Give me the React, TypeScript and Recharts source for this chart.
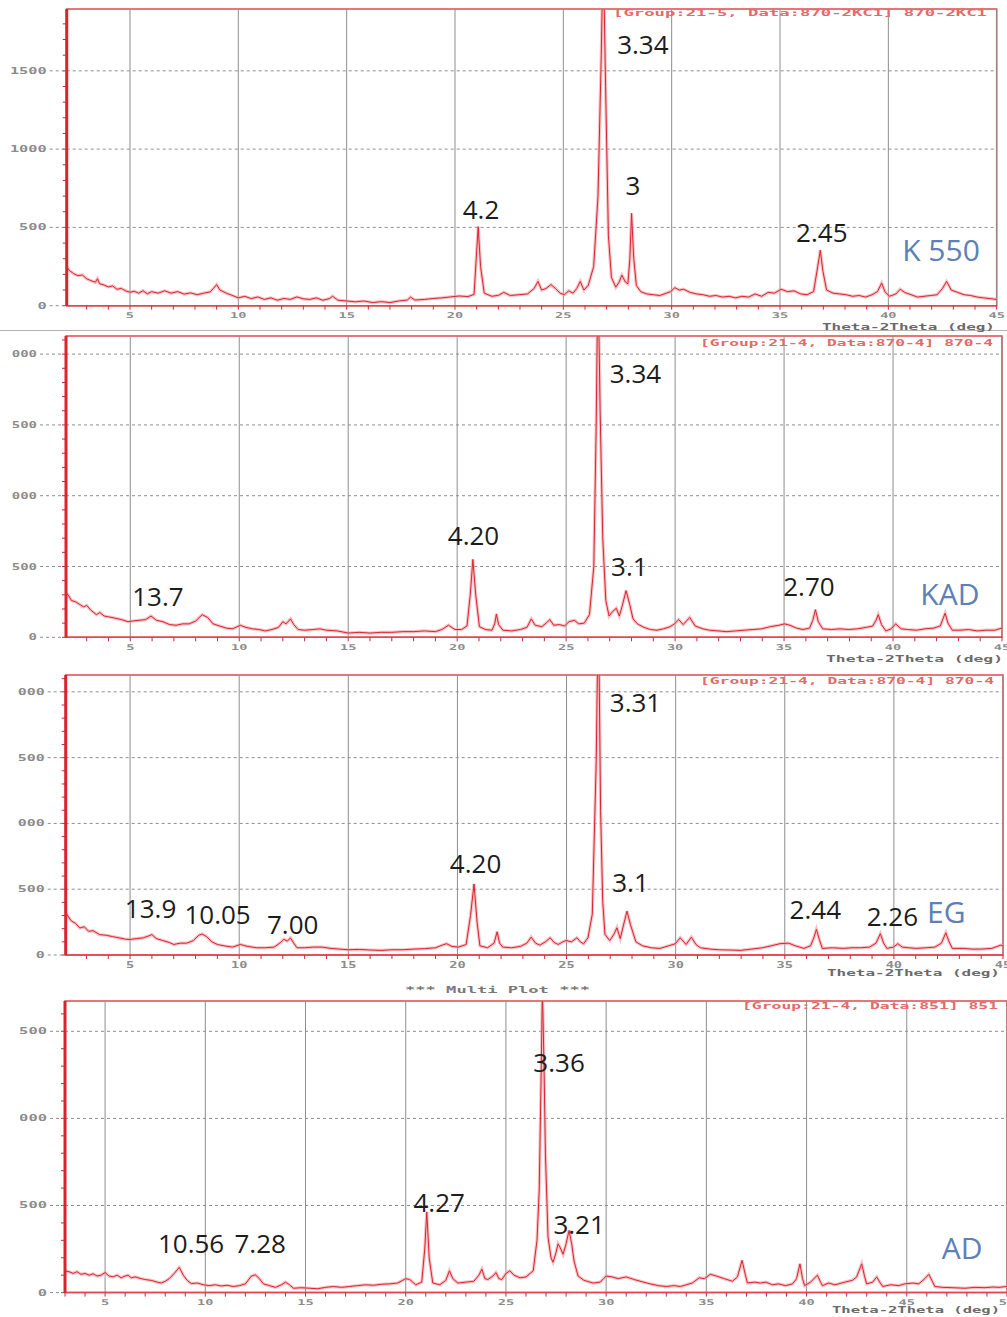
import React from "react";
import {
  LineChart,
  Line,
  XAxis,
  YAxis,
  ReferenceLine,
  ReferenceArea,
  ReferenceDot,
} from "recharts";

type Pt = [number, number];
type Peak = { text: string; t: number; i: number };

// XRD traces: [2theta (deg), counts]
const k550Trace: Pt[] = [
  [2.08, 250], [2.2, 225], [2.4, 205], [2.6, 192], [2.8, 196], [3.0, 172], [3.2, 160], [3.4, 150], [3.5, 172],
  [3.6, 140], [3.8, 132], [4.0, 120], [4.2, 126], [4.4, 105], [4.6, 110], [4.8, 95], [5.0, 86], [5.2, 92],
  [5.4, 80], [5.6, 96], [5.8, 76], [6.0, 90], [6.3, 80], [6.6, 95], [6.9, 80], [7.2, 90], [7.5, 74], [7.8, 82],
  [8.1, 70], [8.4, 80], [8.7, 88], [8.85, 110], [9.0, 135], [9.15, 100], [9.45, 80], [9.75, 64], [10.0, 50],
  [10.3, 60], [10.6, 45], [10.9, 56], [11.2, 40], [11.5, 50], [11.8, 35], [12.1, 46], [12.4, 40], [12.7, 56],
  [13.0, 44], [13.3, 40], [13.6, 50], [13.9, 35], [14.2, 45], [14.35, 60], [14.6, 35], [15.0, 30], [15.4, 25],
  [15.8, 30], [16.2, 20], [16.6, 26], [17.0, 20], [17.4, 30], [17.8, 36], [17.95, 55], [18.15, 36], [18.6, 40],
  [19.0, 46], [19.4, 50], [19.8, 56], [20.2, 62], [20.6, 58], [20.88, 72], [20.98, 300], [21.07, 505],
  [21.18, 250], [21.35, 80], [21.7, 60], [22.0, 66], [22.25, 85], [22.55, 65], [22.95, 70], [23.35, 75],
  [23.65, 110], [23.83, 155], [24.0, 100], [24.2, 110], [24.43, 135], [24.65, 108], [24.85, 80], [25.05, 70],
  [25.25, 95], [25.45, 80], [25.62, 110], [25.78, 155], [25.95, 100], [26.15, 130], [26.4, 250], [26.6, 700],
  [26.75, 1600], [26.84, 2300], [26.95, 1400], [27.08, 450], [27.22, 180], [27.42, 118], [27.57, 150],
  [27.7, 195], [27.87, 150], [27.98, 140], [28.07, 300], [28.15, 590], [28.25, 300], [28.37, 130], [28.57, 90],
  [28.85, 75], [29.15, 70], [29.45, 65], [29.75, 80], [29.95, 90], [30.15, 115], [30.35, 100], [30.55, 105],
  [30.85, 85], [31.15, 75], [31.45, 70], [31.75, 60], [32.05, 65], [32.35, 55], [32.65, 60], [32.95, 50],
  [33.25, 60], [33.55, 55], [33.85, 75], [34.15, 60], [34.45, 85], [34.75, 80], [35.05, 105], [35.35, 90],
  [35.65, 95], [35.95, 75], [36.25, 70], [36.55, 90], [36.74, 250], [36.86, 355], [36.98, 220], [37.15, 100],
  [37.45, 80], [37.75, 75], [38.05, 70], [38.35, 60], [38.65, 65], [38.95, 55], [39.25, 70], [39.5, 90],
  [39.69, 145], [39.84, 90], [40.05, 60], [40.35, 75], [40.55, 105], [40.75, 85], [41.05, 70], [41.35, 55],
  [41.65, 60], [41.95, 65], [42.25, 70], [42.5, 110], [42.69, 155], [42.9, 100], [43.2, 85], [43.5, 70],
  [43.8, 65], [44.1, 55], [44.4, 50], [44.7, 45], [45.0, 40],
];

const kadTrace: Pt[] = [
  [2.05, 310], [2.15, 300], [2.3, 260], [2.5, 250], [2.7, 230], [2.85, 215], [3.0, 225], [3.2, 190],
  [3.45, 160], [3.6, 175], [3.8, 150], [4.0, 145], [4.3, 135], [4.6, 125], [4.9, 110], [5.1, 115], [5.4, 120],
  [5.7, 125], [5.95, 150], [6.2, 120], [6.5, 110], [6.8, 90], [7.1, 85], [7.4, 95], [7.7, 95], [8.0, 115],
  [8.3, 160], [8.55, 140], [8.8, 95], [9.1, 80], [9.4, 65], [9.7, 60], [10.05, 85], [10.3, 70], [10.6, 60],
  [10.9, 55], [11.2, 45], [11.5, 55], [11.8, 70], [12.0, 110], [12.15, 95], [12.35, 130], [12.5, 90],
  [12.7, 55], [13.0, 50], [13.4, 55], [13.7, 60], [14.0, 50], [14.5, 45], [15.0, 30], [15.5, 35], [16.0, 30],
  [16.5, 35], [17.0, 35], [17.5, 40], [18.0, 40], [18.5, 45], [19.0, 40], [19.3, 55], [19.6, 85], [19.9, 55],
  [20.2, 55], [20.45, 80], [20.6, 300], [20.72, 550], [20.85, 300], [21.02, 75], [21.3, 55], [21.6, 50],
  [21.73, 100], [21.8, 165], [21.9, 90], [22.1, 50], [22.5, 45], [22.9, 55], [23.2, 70], [23.4, 130],
  [23.58, 85], [23.88, 75], [24.08, 100], [24.25, 125], [24.43, 85], [24.68, 90], [24.93, 80], [25.13, 110],
  [25.38, 120], [25.58, 95], [25.83, 100], [26.07, 160], [26.27, 500], [26.38, 1500], [26.46, 2600],
  [26.56, 1600], [26.68, 700], [26.82, 260], [26.97, 150], [27.12, 180], [27.3, 205], [27.44, 150],
  [27.57, 220], [27.75, 330], [27.92, 230], [28.07, 130], [28.27, 95], [28.57, 70], [28.87, 55], [29.17, 50],
  [29.47, 60], [29.77, 75], [29.97, 95], [30.17, 125], [30.37, 90], [30.67, 140], [30.92, 80], [31.27, 60],
  [31.57, 50], [31.97, 45], [32.37, 40], [32.77, 45], [33.17, 50], [33.57, 55], [33.97, 60], [34.37, 75],
  [34.77, 85], [35.02, 95], [35.27, 85], [35.57, 65], [35.87, 55], [36.17, 65], [36.32, 120], [36.44, 195],
  [36.57, 110], [36.77, 60], [37.17, 55], [37.57, 60], [37.97, 55], [38.37, 60], [38.77, 70], [39.07, 80],
  [39.22, 120], [39.32, 160], [39.47, 90], [39.67, 45], [39.92, 60], [40.12, 95], [40.37, 60], [40.67, 55],
  [41.07, 50], [41.47, 60], [41.87, 65], [42.17, 80], [42.29, 130], [42.39, 170], [42.52, 100], [42.72, 50],
  [43.07, 50], [43.47, 55], [43.87, 45], [44.27, 50], [44.67, 50], [45.0, 65],
];

const egTrace: Pt[] = [
  [2.05, 320], [2.12, 305], [2.3, 260], [2.5, 240], [2.7, 205], [2.9, 215], [3.1, 180], [3.3, 185],
  [3.6, 155], [3.9, 150], [4.2, 140], [4.5, 130], [4.8, 120], [5.0, 118], [5.3, 125], [5.6, 130], [5.85, 145],
  [6.0, 155], [6.2, 125], [6.5, 110], [6.8, 95], [7.0, 80], [7.3, 90], [7.6, 90], [7.9, 110], [8.15, 150],
  [8.3, 160], [8.5, 140], [8.75, 100], [9.0, 80], [9.3, 70], [9.7, 60], [10.05, 80], [10.4, 65], [10.8, 55],
  [11.2, 55], [11.6, 60], [11.9, 95], [12.05, 120], [12.2, 105], [12.35, 130], [12.5, 90], [12.65, 55],
  [13.0, 55], [13.4, 60], [13.8, 60], [14.2, 50], [14.6, 45], [15.0, 40], [15.5, 42], [16.0, 38], [16.5, 35],
  [17.0, 40], [17.5, 40], [18.0, 45], [18.5, 48], [19.0, 55], [19.3, 75], [19.5, 86], [19.75, 65],
  [20.05, 60], [20.4, 80], [20.6, 300], [20.76, 540], [20.9, 250], [21.03, 70], [21.38, 55], [21.68, 90],
  [21.82, 177], [21.93, 90], [22.08, 60], [22.48, 55], [22.88, 65], [23.18, 90], [23.38, 136], [23.58, 90],
  [23.78, 75], [24.03, 100], [24.25, 131], [24.43, 95], [24.62, 80], [24.83, 100], [24.98, 110], [25.23, 100],
  [25.48, 131], [25.63, 100], [25.78, 85], [25.98, 130], [26.18, 310], [26.36, 1470], [26.46, 2700],
  [26.56, 1100], [26.66, 400], [26.76, 157], [26.98, 110], [27.18, 160], [27.31, 207], [27.46, 125],
  [27.6, 220], [27.77, 333], [27.93, 230], [28.18, 100], [28.48, 70], [28.88, 55], [29.28, 50], [29.68, 70],
  [29.98, 85], [30.21, 131], [30.48, 80], [30.72, 136], [30.93, 80], [31.13, 55], [31.58, 45], [31.98, 40],
  [32.48, 38], [32.98, 35], [33.48, 45], [33.98, 55], [34.38, 70], [34.78, 86], [35.18, 90], [35.48, 70],
  [35.88, 50], [36.18, 70], [36.33, 130], [36.45, 195], [36.58, 120], [36.72, 50], [37.18, 55], [37.68, 50],
  [38.08, 55], [38.48, 55], [38.88, 60], [39.18, 90], [39.38, 162], [39.53, 90], [39.68, 50], [39.98, 60],
  [40.18, 86], [40.38, 60], [40.68, 55], [41.03, 50], [41.48, 55], [41.88, 60], [42.18, 90], [42.38, 169],
  [42.53, 100], [42.68, 50], [43.18, 50], [43.58, 45], [43.98, 45], [44.48, 50], [44.9, 75], [45.0, 70],
];

const adTrace: Pt[] = [
  [3.0, 125], [3.2, 120], [3.4, 110], [3.6, 120], [3.8, 105], [4.0, 110], [4.2, 100], [4.4, 108], [4.6, 95],
  [4.8, 100], [5.0, 115], [5.2, 95], [5.4, 90], [5.6, 100], [5.8, 85], [6.0, 95], [6.15, 100], [6.3, 85],
  [6.5, 90], [6.8, 80], [7.0, 75], [7.3, 70], [7.6, 60], [7.8, 55], [8.0, 65], [8.2, 80], [8.45, 110],
  [8.7, 145], [8.9, 100], [9.1, 70], [9.3, 52], [9.6, 55], [9.9, 45], [10.2, 40], [10.5, 45], [10.8, 38],
  [11.1, 42], [11.4, 35], [11.7, 40], [12.0, 50], [12.3, 95], [12.5, 102], [12.7, 80], [12.9, 50], [13.2, 40],
  [13.5, 30], [13.8, 45], [14.0, 60], [14.2, 45], [14.4, 25], [14.8, 28], [15.2, 25], [15.6, 22], [16.0, 30],
  [16.4, 35], [16.8, 30], [17.2, 35], [17.6, 40], [18.0, 45], [18.4, 42], [18.8, 48], [19.2, 50], [19.6, 55],
  [20.0, 80], [20.2, 75], [20.5, 45], [20.8, 60], [20.95, 250], [21.05, 463], [21.17, 200], [21.35, 55],
  [21.7, 45], [22.0, 70], [22.18, 125], [22.35, 80], [22.6, 55], [23.0, 60], [23.4, 65], [23.65, 100],
  [23.8, 135], [23.95, 80], [24.1, 75], [24.35, 95], [24.5, 115], [24.65, 80], [24.8, 75], [25.0, 110],
  [25.2, 125], [25.4, 100], [25.7, 85], [26.0, 90], [26.36, 125], [26.55, 300], [26.66, 588], [26.75, 1200],
  [26.82, 1750], [26.9, 1300], [26.97, 800], [27.1, 318], [27.25, 200], [27.35, 174], [27.5, 230], [27.6, 280],
  [27.7, 260], [27.85, 220], [28.0, 280], [28.15, 357], [28.28, 280], [28.4, 180], [28.6, 95], [28.9, 70],
  [29.35, 55], [29.7, 60], [30.0, 95], [30.3, 90], [30.6, 80], [31.0, 90], [31.4, 75], [31.8, 62], [32.2, 50],
  [32.6, 40], [33.0, 35], [33.4, 40], [33.7, 35], [34.0, 45], [34.3, 55], [34.65, 85], [34.9, 80], [35.2, 105],
  [35.5, 95], [35.9, 80], [36.3, 65], [36.55, 90], [36.78, 185], [36.95, 100], [37.05, 55], [37.4, 60],
  [37.7, 55], [37.97, 60], [38.3, 45], [38.6, 50], [38.96, 40], [39.3, 50], [39.5, 80], [39.67, 165],
  [39.8, 80], [39.9, 40], [40.2, 60], [40.54, 100], [40.7, 60], [40.79, 40], [41.1, 55], [41.4, 45], [41.6, 50],
  [41.9, 60], [42.28, 70], [42.5, 90], [42.75, 165], [42.9, 90], [43.0, 50], [43.3, 60], [43.5, 90],
  [43.65, 60], [43.8, 35], [44.2, 45], [44.6, 40], [44.9, 50], [45.3, 55], [45.6, 50], [45.9, 80], [46.1, 105],
  [46.25, 70], [46.4, 35], [46.8, 30], [47.3, 28], [47.9, 25], [48.4, 30], [48.9, 28], [49.3, 32], [49.6, 30],
  [50.0, 35],
];

// d-spacing annotations, placed in data units
const k550Peaks: Peak[] = [
  { text: "3.34", t: 28.67, i: 1667 },
  { text: "3", t: 28.21, i: 766 },
  { text: "4.2", t: 21.2, i: 613 },
  { text: "2.45", t: 36.93, i: 466 },
];
const kadPeaks: Peak[] = [
  { text: "3.34", t: 28.18, i: 1859 },
  { text: "4.20", t: 20.75, i: 715 },
  { text: "3.1", t: 27.9, i: 496 },
  { text: "13.7", t: 6.27, i: 285 },
  { text: "2.70", t: 36.14, i: 355 },
];
const egPeaks: Peak[] = [
  { text: "3.31", t: 28.16, i: 1915 },
  { text: "4.20", t: 20.83, i: 692 },
  { text: "3.1", t: 27.93, i: 547 },
  { text: "13.9", t: 5.94, i: 350 },
  { text: "10.05", t: 9.01, i: 304 },
  { text: "7.00", t: 12.45, i: 228 },
  { text: "2.44", t: 36.4, i: 342 },
  { text: "2.26", t: 39.93, i: 289 },
];
const adPeaks: Peak[] = [
  { text: "3.36", t: 27.65, i: 1322 },
  { text: "4.27", t: 21.67, i: 513 },
  { text: "3.21", t: 28.65, i: 392 },
  { text: "10.56", t: 9.29, i: 283 },
  { text: "7.28", t: 12.74, i: 283 },
];

const k550Sample: Peak = { text: "K 550", t: 42.43, i: 351 };
const kadSample: Peak = { text: "KAD", t: 42.61, i: 306 };
const egSample: Peak = { text: "EG", t: 42.4, i: 327 };
const adSample: Peak = { text: "AD", t: 47.76, i: 254 };

const xMajor45 = [5, 10, 15, 20, 25, 30, 35, 40, 45];
const xMajor50 = [5, 10, 15, 20, 25, 30, 35, 40, 45, 50];
const yMajor1500 = [0, 500, 1000, 1500];
const yMajor2000 = [0, 500, 1000, 1500, 2000];
const Y_MINOR_STEP = 100;

const header1 = "[Group:21-5, Data:870-2KC1] 870-2KC1";
const header2 = "[Group:21-4, Data:870-4] 870-4";
const header4 = "[Group:21-4, Data:851] 851";
const axisTitle = "Theta-2Theta (deg)";
const multiPlot = "***  Multi Plot  ***";

const RED = "#d9232f";
const BORDER = "#e2474f";
const GRID = "#8e8e8e";
const MONO = "'DejaVu Sans Mono', 'Liberation Mono', monospace";
const SANS = "'Open Sans', 'Noto Sans', sans-serif";

function xTickRenderer(majors: number[]) {
  return (p: any) => {
    const { x, y, payload } = p;
    const v = payload.value;
    const label = String(v);
    return (
      <g>
        <line x1={x} x2={x} y1={y} y2={y + 4} stroke={RED} strokeWidth={1} />
        {majors.includes(v) && (
          <text
            x={x}
            y={y + 10}
            textAnchor="middle"
            dominantBaseline="central"
            fontFamily={MONO}
            fontWeight={700}
            fontSize={8}
            fill="#8c8c8c"
            textLength={label.length * 8.2}
            lengthAdjust="spacingAndGlyphs"
          >
            {label}
          </text>
        )}
      </g>
    );
  };
}

function yTickRenderer(majors: number[], dx: number, charW: number) {
  return (p: any) => {
    const { x, y, payload } = p;
    const v = payload.value;
    const label = String(v);
    const major = majors.includes(v);
    return (
      <g>
        <line x1={x - 4} x2={x} y1={y} y2={y} stroke={RED} strokeWidth={1} />
        {major && (
          <line x1={x + dx + 3} x2={x - 2} y1={y} y2={y} stroke={GRID} strokeDasharray="3 3" />
        )}
        {major && (
          <text
            x={x + dx}
            y={y}
            textAnchor="end"
            dominantBaseline="central"
            fontFamily={MONO}
            fontWeight={700}
            fontSize={8.5}
            fill="#8c8c8c"
            textLength={label.length * charW}
            lengthAdjust="spacingAndGlyphs"
          >
            {label}
          </text>
        )}
      </g>
    );
  };
}

function Panel({
  trace,
  peaks,
  sample,
  xDomain,
  yMax,
  xMajor,
  yMajor,
  plotLeft,
  plotRight,
  plotTop,
  plotBottom,
  labelDx,
  labelCharW,
  clipLeft,
}: {
  trace: Pt[];
  peaks: Peak[];
  sample: Peak;
  xDomain: [number, number];
  yMax: number;
  xMajor: number[];
  yMajor: number[];
  plotLeft: number;
  plotRight: number;
  plotTop: number;
  plotBottom: number;
  labelDx: number;
  labelCharW: number;
  clipLeft: number;
}) {
  const rows = trace.map(([t, i]) => ({ t, i }));
  const height = plotBottom - plotTop + 40;
  const yTicks: number[] = [];
  for (let v = 0; v <= yMax; v += Y_MINOR_STEP) yTicks.push(v);
  const xTicks: number[] = [];
  for (let v = Math.ceil(xDomain[0]); v <= xDomain[1] + 1e-9; v++) xTicks.push(v);

  return (
    <div
      style={{
        position: "absolute",
        left: clipLeft,
        top: plotTop - 10,
        width: 1007 - clipLeft,
        height,
        overflow: "hidden",
      }}
    >
      <div style={{ marginLeft: -clipLeft }}>
        <LineChart
          width={1007}
          height={height}
          data={rows}
          margin={{ top: 10, bottom: 10, left: plotLeft - 58, right: 1007 - plotRight }}
        >
          <XAxis
            type="number"
            dataKey="t"
            domain={xDomain}
            allowDataOverflow
            ticks={xTicks}
            interval={0}
            height={20}
            tickSize={0}
            tickMargin={0}
            tickLine={false}
            axisLine={{ stroke: BORDER, strokeWidth: 1.5 }}
            tick={xTickRenderer(xMajor)}
          />
          <YAxis
            type="number"
            domain={[0, yMax]}
            allowDataOverflow
            ticks={yTicks}
            interval={0}
            width={58}
            tickSize={0}
            tickMargin={0}
            tickLine={false}
            axisLine={{ stroke: RED, strokeWidth: 3 }}
            tick={yTickRenderer(yMajor, labelDx, labelCharW)}
          />
          {xMajor.map((v) => (
            <ReferenceLine key={`vx${v}`} x={v} stroke={GRID} strokeWidth={1} />
          ))}
          {yMajor
            .filter((v) => v > 0)
            .map((v) => (
              <ReferenceLine key={`hy${v}`} y={v} stroke={GRID} strokeDasharray="3 3" />
            ))}
          <ReferenceArea
            x1={xDomain[0]}
            x2={xDomain[1]}
            y1={0}
            y2={yMax}
            fill="none"
            stroke={BORDER}
            strokeWidth={1.5}
            ifOverflow="visible"
          />
          {/* soft halo under the trace, like the scanned print */}
          <Line
            dataKey="i"
            type="linear"
            stroke="#f3a0a6"
            strokeWidth={3.2}
            strokeOpacity={0.65}
            dot={false}
            activeDot={false}
            isAnimationActive={false}
          />
          <Line
            dataKey="i"
            type="linear"
            stroke={RED}
            strokeWidth={1}
            dot={false}
            activeDot={false}
            isAnimationActive={false}
          />
          {peaks.map((p) => (
            <ReferenceDot
              key={`pk${p.text}${p.t}`}
              x={p.t}
              y={p.i}
              r={0}
              fill="none"
              stroke="none"
              ifOverflow="visible"
              label={{ value: p.text, position: "center", fill: "#1c1c1c", fontSize: 26, fontFamily: SANS }}
            />
          ))}
          <ReferenceDot
            x={sample.t}
            y={sample.i}
            r={0}
            fill="none"
            stroke="none"
            ifOverflow="visible"
            label={{ value: sample.text, position: "center", fill: "#5d80b6", fontSize: 30, fontFamily: SANS }}
          />
        </LineChart>
      </div>
    </div>
  );
}

function MonoText({ x1, x2, y, text, fill }: { x1: number; x2: number; y: number; text: string; fill: string }) {
  return (
    <text
      x={x1}
      y={y}
      dominantBaseline="central"
      fontFamily={MONO}
      fontWeight={700}
      fontSize={9}
      fill={fill}
      textLength={x2 - x1}
      lengthAdjust="spacingAndGlyphs"
    >
      {text}
    </text>
  );
}

export default function App() {
  return (
    <div
      style={{
        position: "absolute",
        left: 0,
        top: 0,
        width: 1007,
        height: 1317,
        overflow: "hidden",
        background: "#ffffff",
      }}
    >
      <Panel
        trace={k550Trace}
        peaks={k550Peaks}
        sample={k550Sample}
        xDomain={[2.08, 45]}
        yMax={1895}
        xMajor={xMajor45}
        yMajor={yMajor1500}
        plotLeft={66.7}
        plotRight={996.7}
        plotTop={9.3}
        plotBottom={306}
        labelDx={-20}
        labelCharW={9.2}
        clipLeft={0}
      />
      <Panel
        trace={kadTrace}
        peaks={kadPeaks}
        sample={kadSample}
        xDomain={[2.05, 45]}
        yMax={2128}
        xMajor={xMajor45}
        yMajor={yMajor2000}
        plotLeft={66}
        plotRight={1002}
        plotTop={336}
        plotBottom={637.3}
        labelDx={-29}
        labelCharW={8.4}
        clipLeft={12}
      />
      <Panel
        trace={egTrace}
        peaks={egPeaks}
        sample={egSample}
        xDomain={[2.05, 45]}
        yMax={2128}
        xMajor={xMajor45}
        yMajor={yMajor2000}
        plotLeft={65.7}
        plotRight={1003}
        plotTop={675}
        plotBottom={955}
        labelDx={-21}
        labelCharW={9}
        clipLeft={17.5}
      />
      <Panel
        trace={adTrace}
        peaks={adPeaks}
        sample={adSample}
        xDomain={[3, 50]}
        yMax={1674}
        xMajor={xMajor50}
        yMajor={yMajor1500}
        plotLeft={65}
        plotRight={1007}
        plotTop={1000.7}
        plotBottom={1292.3}
        labelDx={-18}
        labelCharW={9.3}
        clipLeft={19.5}
      />

      {/* captions copied from the instrument printout */}
      <svg
        width={1007}
        height={1317}
        style={{ position: "absolute", left: 0, top: 0, pointerEvents: "none" }}
      >
        <line x1={0} x2={1007} y1={330.5} y2={330.5} stroke="#b4b4b4" strokeWidth={1} />
        <MonoText x1={613} x2={987} y={13} text={header1} fill="#e26a6a" />
        <MonoText x1={700} x2={993} y={343} text={header2} fill="#e26a6a" />
        <MonoText x1={700} x2={994} y={681} text={header2} fill="#e26a6a" />
        <MonoText x1={742} x2={998} y={1006} text={header4} fill="#e26a6a" />
        <MonoText x1={822} x2={995} y={327} text={axisTitle} fill="#6a6a6a" />
        <MonoText x1={826} x2={1003} y={659} text={axisTitle} fill="#6a6a6a" />
        <MonoText x1={827} x2={1000} y={973} text={axisTitle} fill="#6a6a6a" />
        <MonoText x1={832} x2={1000} y={1310} text={axisTitle} fill="#6a6a6a" />
        <MonoText x1={405} x2={590} y={990} text={multiPlot} fill="#7a7a7a" />
      </svg>
    </div>
  );
}
